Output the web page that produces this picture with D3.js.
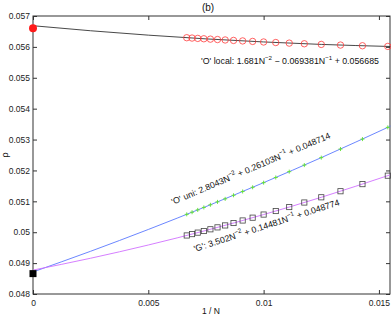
<!DOCTYPE html>
<html>
<head>
<meta charset="utf-8">
<script src="https://cdn.jsdelivr.net/npm/d3@7"></script>
<style>
  body { margin: 0; background: #fff; }
  svg { font-family: "Liberation Sans", Arial, sans-serif; }
</style>
</head>
<body>
<div id="chart"></div>
<script>
// sizes N of the runs, plotted as 1/N
const sizes = [150, 145, 140, 135, 130, 125, 120, 115, 110, 105, 100, 95, 90, 85, 80, 75, 70, 65];

// 'O' local (red circles)
const oLocal = [0.056297, 0.056286, 0.056275, 0.056263, 0.056251, 0.056238, 0.056224, 0.056209, 0.056193,
  0.056177, 0.056159, 0.056141, 0.056122, 0.056101, 0.056080, 0.056059, 0.056037, 0.056016];
// 'O' uni (green plus)
const oUni = [0.050579, 0.050648, 0.050722, 0.050802, 0.050888, 0.050982, 0.051080, 0.051196, 0.051319,
  0.051454, 0.051605, 0.051772, 0.051961, 0.052173, 0.052415, 0.052693, 0.053015, 0.053394];
// 'G' (squares)
const gVals = [0.049895, 0.049939, 0.049987, 0.050039, 0.050095, 0.050157, 0.050220, 0.050298, 0.050380,
  0.050471, 0.050572, 0.050686, 0.050815, 0.050962, 0.051131, 0.051327, 0.051557, 0.051831];

// fitted curves sampled along 1/N
const fitX = [0, 0.0025, 0.005, 0.0075, 0.01, 0.0125, 0.0155];
const fitLocal = [0.056685, 0.056522, 0.056380, 0.056259, 0.056160, 0.056080, 0.056013];
const fitUni = [0.048714, 0.049384, 0.050089, 0.050830, 0.051605, 0.052415, 0.053434];
const fitG = [0.048774, 0.049158, 0.049586, 0.050057, 0.050572, 0.051131, 0.051860];

// extrapolated values at 1/N = 0
const limitLocal = 0.0566;
const limitG = 0.04866;

const xTicks = [0, 0.005, 0.01, 0.015];
const yTicks = [0.048, 0.049, 0.05, 0.051, 0.052, 0.053, 0.054, 0.055, 0.056, 0.057];

const width = 391, height = 316;
const m = { left: 33, right: 390, top: 16, bottom: 294 };

const svg = d3.select('#chart').append('svg')
  .attr('width', width)
  .attr('height', height);

const x = d3.scaleLinear().domain([0, 0.01548]).range([m.left, m.right]);
const y = d3.scaleLinear().domain([0.048, 0.057]).range([m.bottom, m.top]);

const fmt = d => String(+d.toFixed(4));

// axes, ticks pointing inward
const gx = svg.append('g').attr('transform', `translate(0,${m.bottom})`)
  .call(d3.axisBottom(x).tickValues(xTicks).tickFormat(fmt).tickSize(-4).tickPadding(6));
const gy = svg.append('g').attr('transform', `translate(${m.left},0)`)
  .call(d3.axisLeft(y).tickValues(yTicks).tickFormat(fmt).tickSize(-4).tickPadding(3));
const gt = svg.append('g').attr('transform', `translate(0,${m.top})`)
  .call(d3.axisTop(x).tickValues(xTicks).tickFormat('').tickSize(-4));
const gr = svg.append('g').attr('transform', `translate(${m.right},0)`)
  .call(d3.axisRight(y).tickValues(yTicks).tickFormat('').tickSize(-4));

[gx, gy, gt, gr].forEach(g => {
  g.select('.domain').remove();
  g.selectAll('line').attr('stroke', '#333');
  g.selectAll('text').attr('fill', '#222').style('font-size', '8.5px');
});

svg.append('rect')
  .attr('x', m.left).attr('y', m.top)
  .attr('width', m.right - m.left).attr('height', m.bottom - m.top)
  .attr('fill', 'none').attr('stroke', '#333').attr('stroke-width', 1);

// fit lines
const line = d3.line().x(d => x(d[0])).y(d => y(d[1])).curve(d3.curveMonotoneX);
const fits = [
  { vals: fitLocal, color: '#333' },
  { vals: fitUni, color: '#5a78ff' },
  { vals: fitG, color: '#d070ff' }
];
fits.forEach(f => {
  svg.append('path')
    .datum(fitX.map((v, i) => [v, f.vals[i]]))
    .attr('d', line)
    .attr('fill', 'none')
    .attr('stroke', f.color)
    .attr('stroke-width', 0.9);
});

const pts = vals => sizes.map((n, i) => [1 / n, vals[i]]);

// markers
svg.append('g').selectAll('circle')
  .data(pts(oLocal))
  .join('circle')
  .attr('cx', d => x(d[0])).attr('cy', d => y(d[1]))
  .attr('r', 3.2)
  .attr('fill', 'none').attr('stroke', '#ff3b3b').attr('stroke-width', 0.8);

svg.append('g').selectAll('path')
  .data(pts(oUni))
  .join('path')
  .attr('d', d => `M${x(d[0]) - 2},${y(d[1])}h4M${x(d[0])},${y(d[1]) - 2}v4`)
  .attr('stroke', '#5fe030').attr('stroke-width', 0.9);

svg.append('g').selectAll('rect')
  .data(pts(gVals))
  .join('rect')
  .attr('x', d => x(d[0]) - 2.6).attr('y', d => y(d[1]) - 2.6)
  .attr('width', 5.2).attr('height', 5.2)
  .attr('fill', 'none').attr('stroke', '#444').attr('stroke-width', 0.8);

// extrapolated limits
svg.append('circle')
  .attr('cx', x(0)).attr('cy', y(limitLocal)).attr('r', 4)
  .attr('fill', '#ff1a1a');
svg.append('rect')
  .attr('x', x(0) - 3.5).attr('y', y(limitG) - 3.5)
  .attr('width', 7).attr('height', 7)
  .attr('fill', '#000');

// annotations with superscripts; parts alternate text / exponent
function eqn(parts, tx, ty, angle) {
  const t = svg.append('text')
    .attr('transform', `translate(${tx},${ty}) rotate(${angle})`)
    .attr('fill', '#111')
    .style('font-size', '8.8px');
  parts.forEach((p, i) => {
    if (i % 2 === 1) {
      t.append('tspan').attr('dy', -4.3).style('font-size', '6.2px').text(p);
    } else {
      t.append('tspan').attr('dy', i > 0 ? 4.3 : 0).text(p);
    }
  });
}

eqn(["'O' local: 1.681N", '\u22122', ' \u2212 0.069381N', '\u22121', ' + 0.056685'], 201, 64, 0);
eqn(["'O' uni: 2.8043N", '\u22122', ' + 0.26103N', '\u22121', ' + 0.048714'], 173, 205, -23);
eqn(["'G': 3.502N", '\u22122', ' + 0.14481N', '\u22121', ' + 0.048774'], 195, 252, -18);

// titles
svg.append('text')
  .attr('x', 208).attr('y', 11)
  .attr('text-anchor', 'middle')
  .attr('fill', '#111')
  .style('font-size', '10px')
  .text('(b)');

svg.append('text')
  .attr('x', 211).attr('y', 314)
  .attr('text-anchor', 'middle')
  .attr('fill', '#111')
  .style('font-size', '8.5px')
  .text('1 / N');

svg.append('text')
  .attr('transform', 'translate(8,155) rotate(-90)')
  .attr('text-anchor', 'middle')
  .attr('fill', '#111')
  .style('font-size', '9px')
  .text('\u03c1');
</script>
</body>
</html>
